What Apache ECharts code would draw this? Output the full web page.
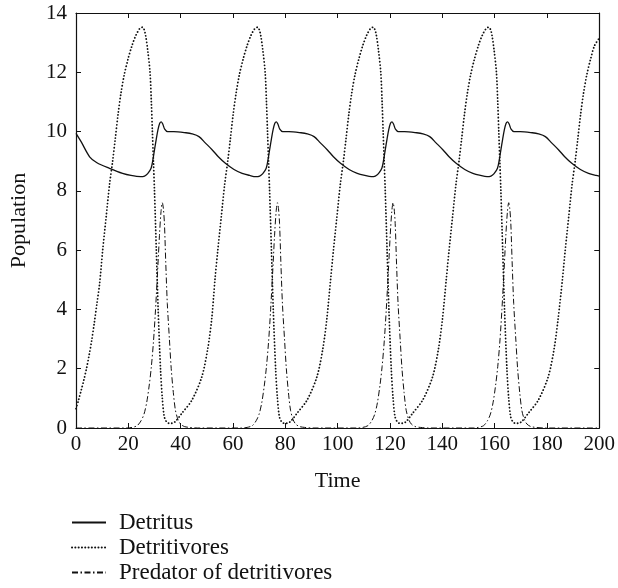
<!DOCTYPE html>
<html>
<head>
<meta charset="utf-8">
<script src="https://cdn.jsdelivr.net/npm/echarts@6/dist/echarts.min.js"></script>
<style>html,body{margin:0;padding:0;background:#fff}#c{width:618px;height:588px}</style>
</head>
<body>
<div id="c"></div>
<script>
var seriesNames = ['Detritus', 'Detritivores', 'Predator of detritivores'];
var xTicks = [0, 20, 40, 60, 80, 100, 120, 140, 160, 180, 200];
var yTicks = [0, 2, 4, 6, 8, 10, 12, 14];

var detritus = [
  [0,9.94],[2,9.65],[5.2,9.15],[8,8.95],[12.8,8.76],[17.8,8.59],[21,8.52],[24.7,8.48],
  [26.2,8.5],[27.4,8.58],[28.7,8.76],[29.4,9.05],[30,9.38],[30.7,9.75],[31.3,10.05],[32,10.28],[32.6,10.33],[33.2,10.25],[33.9,10.08],[35,10.0],[37.4,10.0],[42,9.96],[44.4,9.92],[47,9.83],[49.4,9.62],[52.1,9.38],[54.4,9.15],[57.1,8.93],[60.4,8.72],[63.5,8.59],[66.4,8.52],[68.7,8.48],
  [70.2,8.5],[71.4,8.58],[72.7,8.76],[73.4,9.05],[74,9.38],[74.7,9.75],[75.3,10.05],[76,10.28],[76.6,10.33],[77.2,10.25],[77.9,10.08],[79,10.0],[81.4,10.0],[86,9.96],[88.4,9.92],[91,9.83],[93.4,9.62],[96.1,9.38],[98.4,9.15],[101.1,8.93],[104.4,8.72],[107.5,8.59],[110.4,8.52],[112.9,8.48],
  [114.4,8.5],[115.6,8.58],[116.9,8.76],[117.6,9.05],[118.2,9.38],[118.9,9.75],[119.5,10.05],[120.2,10.28],[120.8,10.33],[121.4,10.25],[122.1,10.08],[123.2,10.0],[125.6,10.0],[130.2,9.96],[132.6,9.92],[135.2,9.83],[137.6,9.62],[140.3,9.38],[142.6,9.15],[145.3,8.93],[148.6,8.72],[151.7,8.59],[154.6,8.52],[157.1,8.48],
  [158.6,8.5],[159.8,8.58],[161.1,8.76],[161.8,9.05],[162.4,9.38],[163.1,9.75],[163.7,10.05],[164.4,10.28],[165,10.33],[165.6,10.25],[166.3,10.08],[167.4,10.0],[169.8,10.0],[174.4,9.96],[176.8,9.92],[179.4,9.83],[181.8,9.62],[184.5,9.38],[186.8,9.15],[189.5,8.93],[192.8,8.72],[195.9,8.59],[198.8,8.52],[200,8.5]
];

var detritivores = [
  [0,0.65],[1,0.95],[2,1.28],[3,1.62],[4,2.0],[5,2.45],[6,2.95],[7,3.55],[8,4.2],[9,4.85],[10.2,6.0],[11.5,7.1],[12.8,8.2],[14,9.0],[15,9.75],[16.1,10.6],[17.2,11.3],[18.4,11.9],[19.9,12.45],[21.4,12.9],[22.9,13.25],[24.4,13.48],[25.4,13.52],
  [26,13.45],[26.6,13.25],[27.4,12.75],[28.3,12.0],[28.8,11.0],[29.2,10.0],[29.6,9.0],[30,8.0],[30.7,6.0],[31.4,4.0],[32.3,2.0],[33,1.0],[33.7,0.4],[34.5,0.22],[35.5,0.16],[36.7,0.16],[38,0.22],[40.5,0.5],[44.3,0.94],[48.1,1.73],[50.4,2.7],[51.9,3.7],[53.1,4.99],
  [54.2,6.0],[55.5,7.1],[56.8,8.2],[58,9.0],[59,9.75],[60.1,10.6],[61.2,11.3],[62.4,11.9],[63.9,12.45],[65.4,12.9],[66.9,13.25],[68.4,13.48],[69.4,13.52],
  [70,13.45],[70.6,13.25],[71.4,12.75],[72.3,12.0],[72.8,11.0],[73.2,10.0],[73.6,9.0],[74,8.0],[74.7,6.0],[75.4,4.0],[76.3,2.0],[77,1.0],[77.7,0.4],[78.5,0.22],[79.5,0.16],[80.7,0.16],[82,0.22],[84.5,0.5],[88.3,0.94],[92.1,1.73],[94.4,2.7],[95.9,3.7],[97.3,4.99],
  [98.4,6.0],[99.7,7.1],[101,8.2],[102.2,9.0],[103.2,9.75],[104.3,10.6],[105.4,11.3],[106.6,11.9],[108.1,12.45],[109.6,12.9],[111.1,13.25],[112.6,13.48],[113.6,13.52],
  [114.2,13.45],[114.8,13.25],[115.6,12.75],[116.5,12.0],[117,11.0],[117.4,10.0],[117.8,9.0],[118.2,8.0],[118.9,6.0],[119.6,4.0],[120.5,2.0],[121.2,1.0],[121.9,0.4],[122.7,0.22],[123.7,0.16],[124.9,0.16],[126.2,0.22],[128.7,0.5],[132.5,0.94],[136.3,1.73],[138.6,2.7],[140.1,3.7],[141.5,4.99],
  [142.6,6.0],[143.9,7.1],[145.2,8.2],[146.4,9.0],[147.4,9.75],[148.5,10.6],[149.6,11.3],[150.8,11.9],[152.3,12.45],[153.8,12.9],[155.3,13.25],[156.8,13.48],[157.8,13.52],
  [158.4,13.45],[159,13.25],[159.8,12.75],[160.7,12.0],[161.2,11.0],[161.6,10.0],[162,9.0],[162.4,8.0],[163.1,6.0],[163.8,4.0],[164.7,2.0],[165.4,1.0],[166.1,0.4],[166.9,0.22],[167.9,0.16],[169.1,0.16],[170.4,0.22],[172.9,0.5],[176.7,0.94],[180.5,1.73],[182.8,2.7],[184.3,3.7],[185.9,4.99],
  [187,6.0],[188.3,7.1],[189.6,8.2],[190.8,9.0],[191.8,9.75],[192.9,10.6],[194,11.3],[195.2,11.9],[196.7,12.45],[198.2,12.9],[200,13.15]
];

var predator = [
  [0,0],[19.4,0],[21.4,0.02],[23.4,0.08],[24.9,0.25],[26,0.47],[27,0.85],[28,1.45],[28.8,2.07],[29.6,2.9],[30.4,4.0],[31.2,5.3],[31.9,6.5],[32.5,7.3],[33,7.6],[33.4,7.4],[33.8,6.9],[34.3,5.6],[34.9,4.2],[35.7,3.0],[36.4,2.0],[37.2,1.2],[38,0.6],[39,0.28],[40,0.13],[41.4,0.05],[43.4,0.02],[46.4,0],
  [63.4,0],[65.4,0.02],[67.4,0.08],[68.9,0.25],[70,0.47],[71,0.85],[72,1.45],[72.8,2.07],[73.6,2.9],[74.4,4.0],[75.2,5.3],[75.9,6.5],[76.5,7.3],[77,7.6],[77.4,7.4],[77.8,6.9],[78.3,5.6],[78.9,4.2],[79.7,3.0],[80.4,2.0],[81.2,1.2],[82,0.6],[83,0.28],[84,0.13],[85.4,0.05],[87.4,0.02],[90.4,0],
  [107.6,0],[109.6,0.02],[111.6,0.08],[113.1,0.25],[114.2,0.47],[115.2,0.85],[116.2,1.45],[117,2.07],[117.8,2.9],[118.6,4.0],[119.4,5.3],[120.1,6.5],[120.7,7.3],[121.2,7.6],[121.6,7.4],[122,6.9],[122.5,5.6],[123.1,4.2],[123.9,3.0],[124.6,2.0],[125.4,1.2],[126.2,0.6],[127.2,0.28],[128.2,0.13],[129.6,0.05],[131.6,0.02],[134.6,0],
  [151.8,0],[153.8,0.02],[155.8,0.08],[157.3,0.25],[158.4,0.47],[159.4,0.85],[160.4,1.45],[161.2,2.07],[162,2.9],[162.8,4.0],[163.6,5.3],[164.3,6.5],[164.9,7.3],[165.4,7.6],[165.8,7.4],[166.2,6.9],[166.7,5.6],[167.3,4.2],[168.1,3.0],[168.8,2.0],[169.6,1.2],[170.4,0.6],[171.4,0.28],[172.4,0.13],[173.8,0.05],[175.8,0.02],[178.8,0],[200,0]
];

var FONT = '"Liberation Serif","DejaVu Serif",serif';
var FS = 21;
var chart = echarts.init(document.getElementById('c'), null, {renderer: 'canvas'});

function xAx(pos, showLabel) {
  return {
    type: 'value', position: pos, min: xTicks[0], max: xTicks[xTicks.length - 1], interval: 20,
    name: showLabel ? 'Time' : '', nameLocation: 'middle', nameGap: 42,
    nameTextStyle: {fontFamily: FONT, fontSize: 22, color: '#111'},
    axisLine: {show: true, onZero: false, lineStyle: {color: '#111', width: 1.2}},
    axisTick: {show: true, inside: true, length: 5, lineStyle: {color: '#111', width: 1}},
    axisLabel: {show: showLabel, fontFamily: FONT, fontSize: FS, color: '#111', margin: 6},
    splitLine: {show: false}
  };
}
function yAx(pos, showLabel) {
  return {
    type: 'value', position: pos, min: yTicks[0], max: yTicks[yTicks.length - 1], interval: 2,
    name: showLabel ? 'Population' : '', nameLocation: 'middle', nameGap: 46, nameRotate: 90,
    nameTextStyle: {fontFamily: FONT, fontSize: 22, color: '#111'},
    axisLine: {show: true, onZero: false, lineStyle: {color: '#111', width: 1.2}},
    axisTick: {show: true, inside: true, length: 5, lineStyle: {color: '#111', width: 1}},
    axisLabel: {show: showLabel, fontFamily: FONT, fontSize: FS, color: '#111', margin: 9},
    splitLine: {show: false}
  };
}

chart.setOption({
  animation: false,
  backgroundColor: '#fff',
  grid: {left: 73, top: 13, right: 17, bottom: 160, containLabel: false},
  xAxis: [xAx('bottom', true), xAx('top', false)],
  yAxis: [yAx('left', true), yAx('right', false)],
  legend: {
    show: true, orient: 'vertical', left: 66, top: 506, height: 200, itemWidth: 34, itemHeight: 14, itemGap: 2,
    padding: 5,
    itemStyle: {opacity: 0},
    textStyle: {fontFamily: FONT, fontSize: 23, color: '#111', lineHeight: 23, padding: [0, 0, 0, 8]},
    data: seriesNames
  },
  series: [
    {name: seriesNames[0], type: 'line', data: detritus, showSymbol: false, symbol: 'none', smooth: 0.3,
     lineStyle: {color: '#111', width: 1.3, type: 'solid'}, itemStyle: {color: '#111'}},
    {name: seriesNames[1], type: 'line', data: detritivores, showSymbol: false, symbol: 'none', smooth: 0.3,
     lineStyle: {color: '#111', width: 1.8, type: [0.1, 3.2], cap: 'round'}, itemStyle: {color: '#111'}},
    {name: seriesNames[2], type: 'line', data: predator, showSymbol: false, symbol: 'none', smooth: 0.3,
     lineStyle: {color: '#111', width: 1, type: [6, 2.5, 1.5, 2.5]}, itemStyle: {color: '#111'}}
  ]
});
</script>
</body>
</html>
